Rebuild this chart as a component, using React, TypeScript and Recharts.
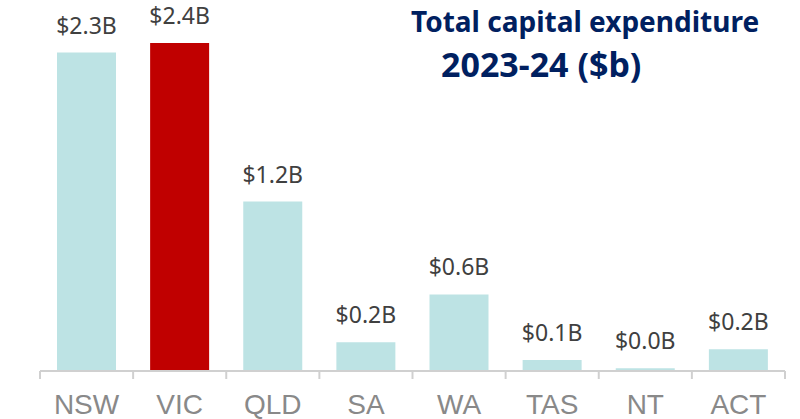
import { BarChart, Bar, XAxis, YAxis, Cell, LabelList } from "recharts";

const states = ["NSW", "VIC", "QLD", "SA", "WA", "TAS", "NT", "ACT"];
const capex = [2.33, 2.4, 1.24, 0.21, 0.56, 0.08, 0.02, 0.16];
const highlight = "VIC";

const W = 800;
const H = 419;
const M = { top: 43, right: 15, left: 40, bottom: 0 };
const BAND = (W - M.left - M.right) / states.length;

const TEAL = "#BDE3E4";
const RED = "#C00000";
const NAVY = "#002060";

const data = states.map((s, i) => ({ state: s, value: capex[i] }));

function StateTick(props: any) {
  const { x, y, payload, index } = props;
  const last = index === states.length - 1;
  return (
    <g>
      <line x1={x - BAND / 2} x2={x - BAND / 2} y1={y} y2={y + 8} stroke="#D0D0D0" strokeWidth={2} />
      {last && <line x1={x + BAND / 2} x2={x + BAND / 2} y1={y} y2={y + 8} stroke="#D0D0D0" strokeWidth={2} />}
      <text x={x} y={y + 43} textAnchor="middle" fill="#898989" fontSize={28} fontFamily="'Liberation Sans', Arial, sans-serif">
        {payload.value}
      </text>
    </g>
  );
}

export default function App() {
  return (
    <div style={{ position: "absolute", left: 0, top: 0, width: W, height: H, background: "#fff" }}>
      <BarChart width={W} height={H} data={data} margin={M} barSize={59}>
        <YAxis hide domain={[0, 2.4]} />
        <XAxis
          dataKey="state"
          height={48}
          tickLine={false}
          tickSize={0}
          tickMargin={0}
          axisLine={{ stroke: "#D0D0D0", strokeWidth: 2 }}
          tick={<StateTick />}
          interval={0}
        />
        <Bar dataKey="value" isAnimationActive={false}>
          {data.map((d) => (
            <Cell key={d.state} fill={d.state === highlight ? RED : TEAL} />
          ))}
          <LabelList
            dataKey="value"
            position="top"
            offset={19}
            formatter={(v: any) => `$${Number(v).toFixed(1)}B`}
            fill="#404040"
            fontSize={23}
            fontFamily="'Noto Sans', sans-serif"
          />
        </Bar>
      </BarChart>
      <svg width={W} height={100} style={{ position: "absolute", left: 0, top: 0 }}>
        <text x={411} y={32} fill={NAVY} fontSize={28} fontWeight={700} fontFamily="'Noto Sans', sans-serif">
          Total capital expenditure
        </text>
        <text x={441} y={77} fill={NAVY} fontSize={34} fontWeight={700} fontFamily="'Noto Sans', sans-serif">
          2023-24 ($b)
        </text>
      </svg>
    </div>
  );
}
